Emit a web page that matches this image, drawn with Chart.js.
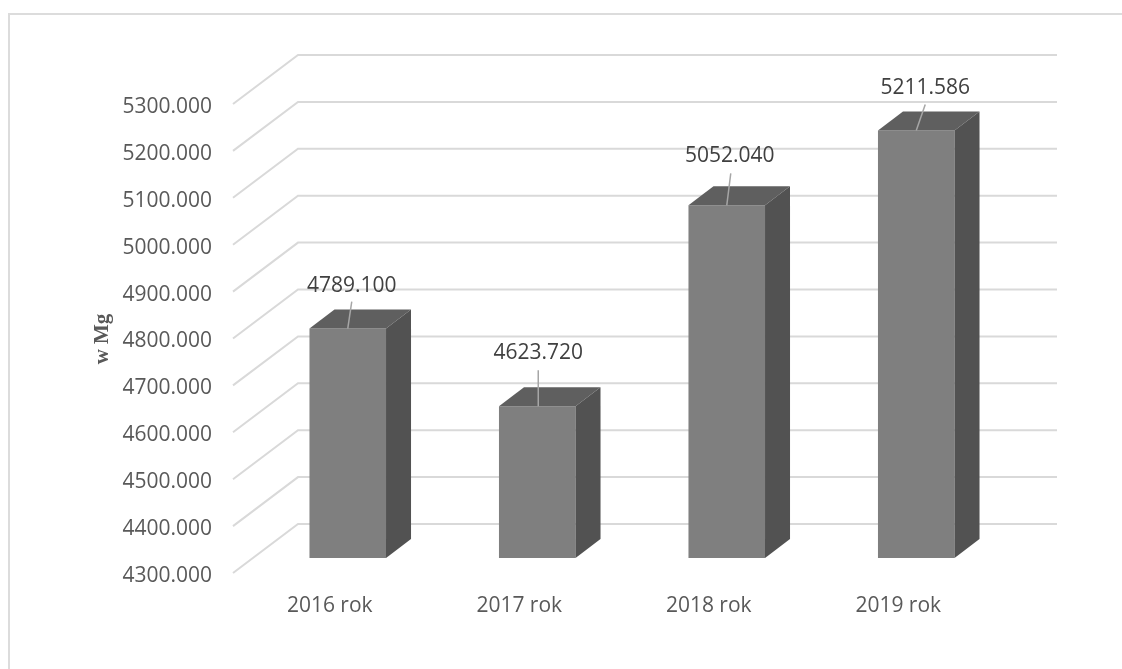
<!DOCTYPE html>
<html>
<head>
<meta charset="utf-8">
<title>w Mg</title>
<style>
  html, body { margin: 0; padding: 0; background: #fff; }
  #wrap { position: relative; width: 1122px; height: 669px; }
  canvas { display: block; }
</style>
<script src="https://cdn.jsdelivr.net/npm/chart.js@4"></script>
</head>
<body>
<div id="wrap"><canvas id="chart" width="1122" height="669"></canvas></div>
<script>
const categories = ["2016 rok", "2017 rok", "2018 rok", "2019 rok"];
const values = [4789.100, 4623.720, 5052.040, 5211.586];
const yMin = 4300;
const yMax = 5300;
const yStep = 100;
const yTitle = "w Mg";

// fake 3D depth of the excel chart, in pixels
const wallDx = 65, wallDy = 49;     // side wall of the grid
const tickShift = 15;               // tick labels sit below the bar plane
const barDx = 25, barDy = 19;       // depth of a bar

// where each value label sits relative to the top centre of its bar
const labelShift = [[4, -43], [1, -53], [3, -49], [9, -42]];
const leaderEnd = [[4, -27], [1, -36], [4, -32], [9, -26]];

const textFont = "'Open Sans', sans-serif";

const walls = {
  id: 'walls',
  beforeDatasetsDraw(chart) {
    const ctx = chart.ctx, y = chart.scales.y;
    const left = y.right - 20; // diagonal starts just right of the labels
    ctx.save();

    // frame of the picture
    ctx.strokeStyle = '#dcdcdc';
    ctx.lineWidth = 2;
    ctx.beginPath();
    ctx.moveTo(9, 669);
    ctx.lineTo(9, 14);
    ctx.lineTo(1122, 14);
    ctx.stroke();

    ctx.strokeStyle = '#d9d9d9';
    ctx.lineWidth = 2;
    y.ticks.forEach(function (t) {
      var py = y.getPixelForValue(t.value);
      ctx.beginPath();
      ctx.moveTo(left, py + tickShift);
      ctx.lineTo(left + wallDx, py + tickShift - wallDy);
      ctx.lineTo(1057, py + tickShift - wallDy);
      ctx.stroke();
    });

    // axis title, the scale title can only be centred on the axis
    ctx.translate(103, 339);
    ctx.rotate(-Math.PI / 2);
    ctx.fillStyle = '#595959';
    ctx.font = "bold 21px 'Liberation Serif', serif";
    ctx.textAlign = 'center';
    ctx.textBaseline = 'middle';
    ctx.fillText(yTitle, 0, 0);
    ctx.restore();
  }
};

const bars3d = {
  id: 'bars3d',
  afterDatasetsDraw(chart) {
    const ctx = chart.ctx;
    const meta = chart.getDatasetMeta(0);
    const bottom = chart.scales.y.getPixelForValue(yMin);
    ctx.save();
    meta.data.forEach(function (bar, i) {
      var l = bar.x - bar.width / 2, r = bar.x + bar.width / 2;
      var top = bar.y;

      // roof
      ctx.fillStyle = '#5f5f5f';
      ctx.beginPath();
      ctx.moveTo(l, top);
      ctx.lineTo(l + barDx, top - barDy);
      ctx.lineTo(r + barDx, top - barDy);
      ctx.lineTo(r, top);
      ctx.closePath();
      ctx.fill();

      // side
      ctx.fillStyle = '#525252';
      ctx.beginPath();
      ctx.moveTo(r, top);
      ctx.lineTo(r + barDx, top - barDy);
      ctx.lineTo(r + barDx, bottom - barDy);
      ctx.lineTo(r, bottom);
      ctx.closePath();
      ctx.fill();

      // leader line
      ctx.strokeStyle = '#a6a6a6';
      ctx.lineWidth = 1.5;
      ctx.beginPath();
      ctx.moveTo(bar.x + (i == 1 ? 1 : 0), top);
      ctx.lineTo(bar.x + leaderEnd[i][0], top + leaderEnd[i][1]);
      ctx.stroke();

      // value label
      ctx.fillStyle = '#404040';
      ctx.font = "21px " + textFont;
      ctx.textAlign = 'center';
      ctx.textBaseline = 'middle';
      ctx.fillText(values[i].toFixed(3), bar.x + labelShift[i][0], top + labelShift[i][1]);
    });
    ctx.restore();
  }
};

new Chart(document.getElementById('chart'), {
  type: 'bar',
  data: {
    labels: categories,
    datasets: [{
      data: values,
      backgroundColor: '#7f7f7f',
      borderWidth: 0,
      barPercentage: 0.404,
      categoryPercentage: 1
    }]
  },
  options: {
    responsive: false,
    animation: false,
    layout: { padding: { left: 92, top: 89, right: 111, bottom: 0 } },
    plugins: { legend: { display: false }, tooltip: { enabled: false } },
    scales: {
      x: {
        grid: { display: false, drawTicks: false },
        border: { display: false },
        afterFit(scale) { scale.height = 111; },
        ticks: {
          autoSkip: false,
          maxRotation: 0,
          labelOffset: -18,
          padding: 35,
          color: '#595959',
          font: { family: textFont, size: 21 }
        }
      },
      y: {
        min: yMin,
        max: yMax,
        grid: { display: false, drawTicks: false },
        border: { display: false },
        afterFit(scale) { scale.width = 161; },
        ticks: {
          stepSize: yStep,
          labelOffset: tickShift + 3,
          padding: 41,
          color: '#595959',
          font: { family: textFont, size: 21 },
          callback: function (v) { return Number(v).toFixed(3); }
        }
      }
    }
  },
  plugins: [walls, bars3d]
});
</script>
</body>
</html>
